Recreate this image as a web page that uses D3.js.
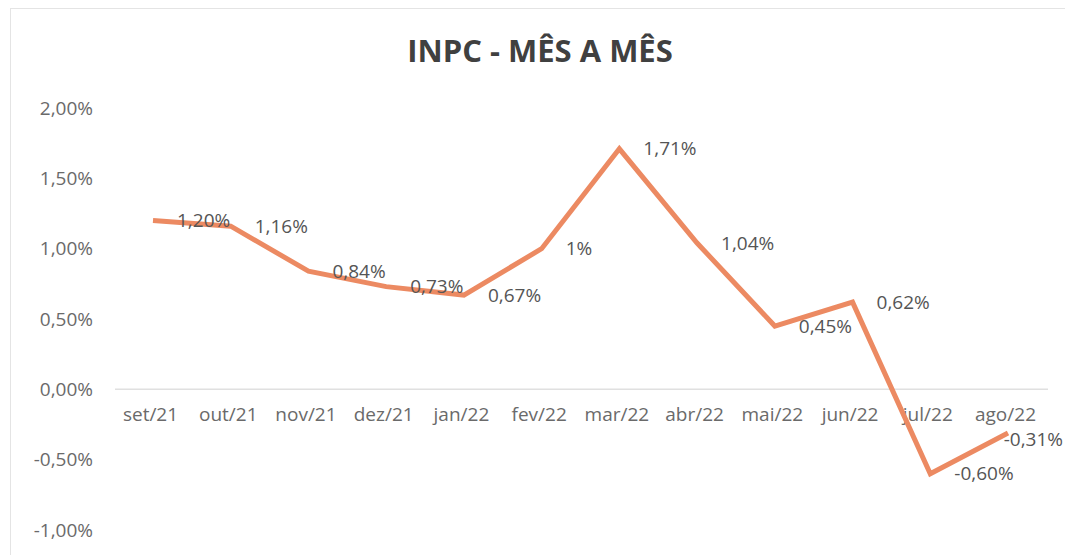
<!DOCTYPE html>
<html>
<head>
<meta charset="utf-8">
<script src="https://cdn.jsdelivr.net/npm/d3@7"></script>
<style>
  body { margin: 0; background: #fff; }
  svg { display: block; font-family: "Open Sans", sans-serif; }
</style>
</head>
<body>
<div id="viz"></div>
<script>
const width = 1065;
const height = 555;

const months = ['set/21', 'out/21', 'nov/21', 'dez/21', 'jan/22', 'fev/22',
  'mar/22', 'abr/22', 'mai/22', 'jun/22', 'jul/22', 'ago/22'];
const values = [1.20, 1.16, 0.84, 0.73, 0.67, 1.00, 1.71, 1.04, 0.45, 0.62, -0.60, -0.31];
const labels = ['1,20%', '1,16%', '0,84%', '0,73%', '0,67%', '1%', '1,71%', '1,04%',
  '0,45%', '0,62%', '-0,60%', '-0,31%'];
const yTicks = [-1, -0.5, 0, 0.5, 1, 1.5, 2];

const svg = d3.select('#viz')
  .append('svg')
    .attr('width', width)
    .attr('height', height);

// light frame of the chart area
svg.append('rect')
  .attr('x', 10.5)
  .attr('y', 8.5)
  .attr('width', width + 20)
  .attr('height', height + 20)
  .attr('fill', 'none')
  .attr('stroke', '#e4e4e4');

// scales
const scaleX = d3.scalePoint()
  .domain(months)
  .range([153, 1008]);

const scaleY = d3.scaleLinear()
  .domain([-1, 2])
  .range([530, 108]);

// title
svg.append('text')
  .attr('x', 540)
  .attr('y', 62)
  .attr('text-anchor', 'middle')
  .style('font-size', '31px')
  .style('font-weight', 700)
  .attr('fill', '#404040')
  .text('INPC - MÊS A MÊS');

// Y axis (labels only), hyphen as minus sign like the original
const axisLeft = d3.axisLeft(scaleY)
  .tickValues(yTicks)
  .tickSize(0)
  .tickPadding(0)
  .tickFormat(d => (d < 0 ? '-' : '') + Math.abs(d).toFixed(2).replace('.', ',') + '%');
const yAxis = svg.append('g')
  .attr('transform', 'translate(93,0)')
  .call(axisLeft);
yAxis.select('.domain').remove();
yAxis.selectAll('text')
  .style('font-size', '19px')
  .style('font-family', '"Open Sans", sans-serif')
  .attr('fill', '#6a6a6a');

// zero line
svg.append('line')
  .attr('x1', 115)
  .attr('x2', 1048)
  .attr('y1', scaleY(0))
  .attr('y2', scaleY(0))
  .attr('stroke', '#e0e0e0')
  .attr('stroke-width', 1.5);

// X axis labels just under the zero line
const axisBottom = d3.axisBottom(scaleX)
  .tickSize(0)
  .tickPadding(0);
const xAxis = svg.append('g')
  .attr('transform', `translate(-3,${scaleY(0) + 18})`)
  .call(axisBottom);
xAxis.select('.domain').remove();
xAxis.selectAll('text')
  .style('font-size', '19px')
  .style('font-family', '"Open Sans", sans-serif')
  .attr('fill', '#6a6a6a');

// line
const line = d3.line()
  .x((d, i) => scaleX(months[i]))
  .y(d => scaleY(d));

svg.append('path')
  .datum(values)
  .attr('d', line)
  .attr('fill', 'none')
  .attr('stroke', '#ec8a62')
  .attr('stroke-width', 5)
  .attr('stroke-linejoin', 'miter');

// data labels to the right of each point (last one kept inside the frame)
const last = values.length - 1;
svg.append('g')
  .selectAll('text')
  .data(values)
  .join('text')
    .attr('x', (d, i) => i === last ? width - 2 : scaleX(months[i]) + 24)
    .attr('y', (d, i) => scaleY(d) + (i === last ? 6 : 0))
    .attr('dy', '0.35em')
    .attr('text-anchor', (d, i) => i === last ? 'end' : 'start')
    .style('font-size', '19px')
    .attr('fill', '#555555')
    .text((d, i) => labels[i]);
</script>
</body>
</html>
